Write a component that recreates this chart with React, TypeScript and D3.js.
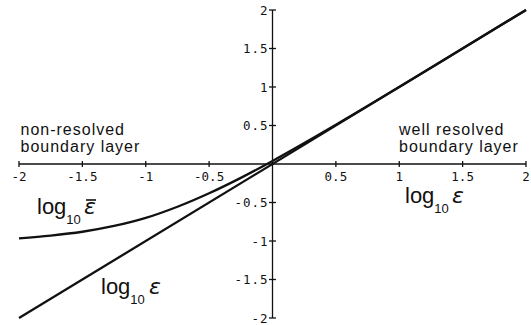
import React from "react";
import * as d3 from "d3";

// Resolution ratio on both axes (decimal logarithms)
const xTicks = [-2, -1.5, -1, -0.5, 0.5, 1, 1.5, 2];
const yTicks = [-2, -1.5, -1, -0.5, 0.5, 1, 1.5, 2];

// log10 ε against itself (identity reference)
const epsX = [-2, 2];
const epsY = [-2, 2];

// Effective log10 ε̄ against log10 ε
const barX = [-2, -1.75, -1.5, -1.25, -1, -0.75, -0.5, -0.25, 0, 0.5, 1, 1.5, 2];
const barY = [-0.965, -0.93, -0.88, -0.805, -0.7, -0.555, -0.38, -0.18, 0.04, 0.51, 1.0, 1.5, 2.0];

const W = 531;
const H = 325;

const x = d3.scaleLinear().domain([-2, 2]).range([19, 526]);
const y = d3.scaleLinear().domain([-2, 2]).range([318, 10]);

const fmt = (v: number) => String(v);

const sans = "'Liberation Sans', Arial, Helvetica, sans-serif";
const mono = "'DejaVu Sans Mono', 'Liberation Mono', monospace";

export default function App() {
  const line = d3
    .line<[number, number]>()
    .x((d) => x(d[0]))
    .y((d) => y(d[1]))
    .curve(d3.curveCatmullRom.alpha(0.5));

  const epsPts = epsX.map((v, i) => [v, epsY[i]] as [number, number]);
  const barPts = barX.map((v, i) => [v, barY[i]] as [number, number]);

  const x0 = x(0);
  const y0 = y(0);
  const ink = "#111";

  return (
    <svg
      width={W}
      height={H}
      viewBox={`0 0 ${W} ${H}`}
      style={{ position: "absolute", left: 0, top: 0, background: "#fff" }}
    >
      {/* axes */}
      <line x1={x(-2)} x2={x(2)} y1={y0} y2={y0} stroke={ink} strokeWidth={1.3} />
      <line x1={x0} x2={x0} y1={y(2)} y2={y(-2)} stroke={ink} strokeWidth={1.3} />

      {xTicks.map((t) => (
        <g key={"xt" + t}>
          <line x1={x(t)} x2={x(t)} y1={y0 - 3} y2={y0 + 3} stroke={ink} strokeWidth={1.3} />
          <text
            x={x(t)}
            y={y0 + 16.5}
            textAnchor="middle"
            fontFamily={mono}
            fontSize={12.5}
            fill={ink}
          >
            {fmt(t)}
          </text>
        </g>
      ))}

      {yTicks.map((t) => (
        <g key={"yt" + t}>
          <line x1={x0 - 3.5} x2={x0 + 3.5} y1={y(t)} y2={y(t)} stroke={ink} strokeWidth={1.3} />
          <text
            x={x0 - 4}
            y={y(t) + 4.5}
            textAnchor="end"
            fontFamily={mono}
            fontSize={12.5}
            letterSpacing={1}
            fill={ink}
          >
            {fmt(t)}
          </text>
        </g>
      ))}

      {/* curves */}
      <path d={line(epsPts) ?? ""} fill="none" stroke="#111" strokeWidth={2.3} />
      <path d={line(barPts) ?? ""} fill="none" stroke="#111" strokeWidth={2.3} />

      {/* region annotations */}
      <g fontFamily={sans} fontSize={16} letterSpacing={1} fill={ink}>
        <text x={20.5} y={135}>non-resolved</text>
        <text x={20.5} y={151.5}>boundary layer</text>
        <text x={399} y={135}>well resolved</text>
        <text x={399} y={151.5}>boundary layer</text>
      </g>

      {/* curve labels */}
      <g fontFamily={sans} fill={ink}>
        <text x={37} y={213.5} fontSize={22}>
          log
          <tspan fontSize={13} dy={10}>10</tspan>
        </text>
        <text x={84} y={213.5} fontSize={22} fontStyle="italic" fontFamily="'DejaVu Sans', sans-serif">
          ε
        </text>
        <line x1={86} x2={96} y1={200} y2={200} stroke={ink} strokeWidth={1.6} />

        <text x={101} y={294} fontSize={22}>
          log
          <tspan fontSize={13} dy={10}>10</tspan>
        </text>
        <text x={149} y={294} fontSize={22} fontStyle="italic" fontFamily="'DejaVu Sans', sans-serif">
          ε
        </text>

        <text x={405} y={202.5} fontSize={22}>
          log
          <tspan fontSize={13} dy={10}>10</tspan>
        </text>
        <text x={452} y={202.5} fontSize={22} fontStyle="italic" fontFamily="'DejaVu Sans', sans-serif">
          ε
        </text>
      </g>
    </svg>
  );
}
